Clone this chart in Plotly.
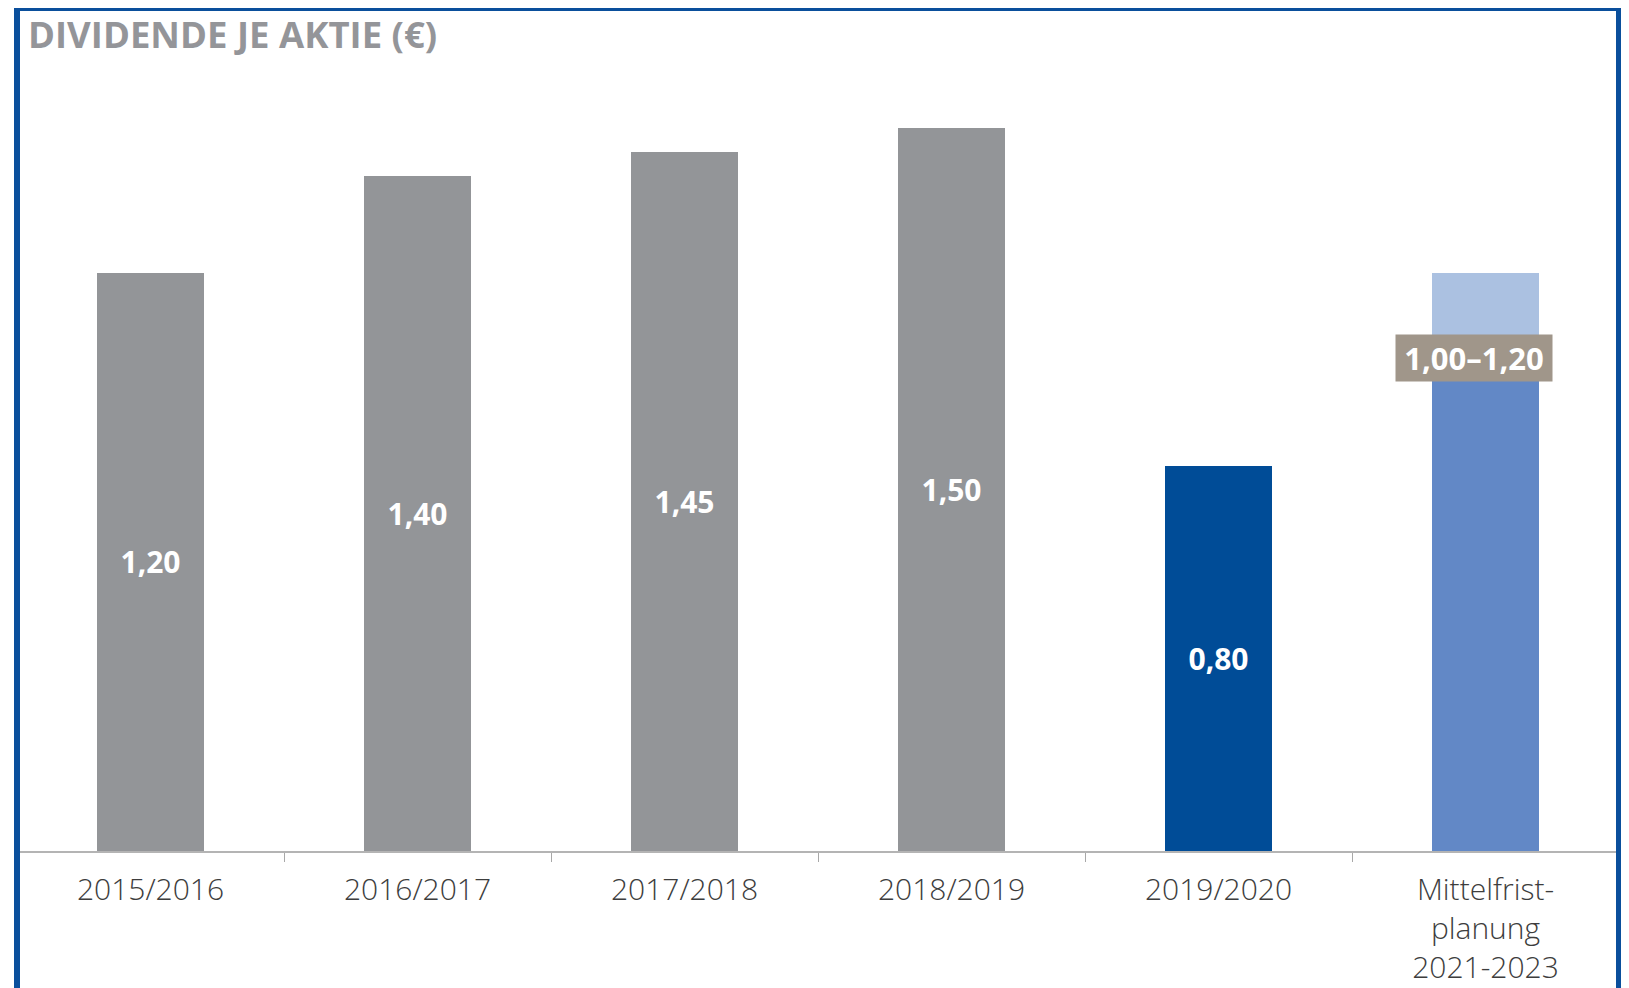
import plotly.graph_objects as go

categories = ["2015/2016", "2016/2017", "2017/2018", "2018/2019", "2019/2020", "Mittelfrist-<br>planung<br>2021-2023"]
dividends = [1.20, 1.40, 1.45, 1.50, 0.80]
plan_low = 1.00
plan_high = 1.20

base_vals = dividends + [plan_low]
upper_vals = [None] * len(dividends) + [plan_high - plan_low]

bar_colors = ["#939598"] * 4 + ["#004c97", "#6288c6"]
labels = ["%{y:.2f}"] * len(dividends) + [""]

# page body has an 8px margin: work in figure coordinates = screen - 8
FW, FH = 1621, 980
L, R, T, Bm = 9, 10, 72, 137

fig = go.Figure()
fig.add_trace(go.Bar(
    x=categories, y=base_vals,
    marker=dict(color=bar_colors, line=dict(width=0)),
    texttemplate=labels,
    textposition="inside", insidetextanchor="middle",
    textfont=dict(family="Open Sans", size=30, color="white", weight="bold"),
    constraintext="none",
    hoverinfo="skip",
))
fig.add_trace(go.Bar(
    x=categories, y=upper_vals,
    marker=dict(color="#abc1e1", line=dict(width=0)),
    hoverinfo="skip",
))

fig.add_annotation(
    x=categories[-1], y=plan_low, yshift=11, xshift=-12,
    text=f"{plan_low:.2f}–{plan_high:.2f}".replace(".", ","),
    showarrow=False,
    font=dict(family="Open Sans", size=31, color="white", weight="bold"),
    bgcolor="#a0968a", borderpad=2, width=152, height=42,
)

W = FW - L - R
H = FH - T - Bm
def px(x):
    return (x - 8 - L) / W
def py(y):
    return (FH - Bm - (y - 8)) / H

B = "#0a4f9c"
for (x0, y0, x1, y1) in [(17, 8, 17, 1100), (14, 8, 1623, 8), (1619, 8, 1619, 1100)]:
    fig.add_shape(type="line", xref="paper", yref="paper", x0=px(x0), x1=px(x1), y0=py(y0), y1=py(y1),
                  line=dict(color=B, width=6))

fig.update_layout(
    width=FW, height=FH,
    margin=dict(l=L, r=R, t=T, b=Bm),
    paper_bgcolor="white", plot_bgcolor="white",
    barmode="stack", bargap=0.6,
    showlegend=False,
    separators=",.",
    title=dict(text="DIVIDENDE JE AKTIE (€)", x=20/FW, xanchor="left", y=1-27/FH, yanchor="middle",
               font=dict(family="Open Sans", size=36.5, color="#949599", weight="bold")),
    xaxis=dict(showline=True, linecolor="#b4b4b4", linewidth=1.5, ticks="outside", tickson="boundaries",
               ticklen=9, tickcolor="#a8a8a8", tickwidth=1, ticklabelstandoff=11, automargin=False,
               tickfont=dict(family="Open Sans", size=30, color="#3d3d3d", weight=300),
               showgrid=False, zeroline=False, fixedrange=True),
    yaxis=dict(range=[0, 1.6], visible=False, showgrid=False, zeroline=False, fixedrange=True, automargin=False),
)

fig.write_html("out.html")
